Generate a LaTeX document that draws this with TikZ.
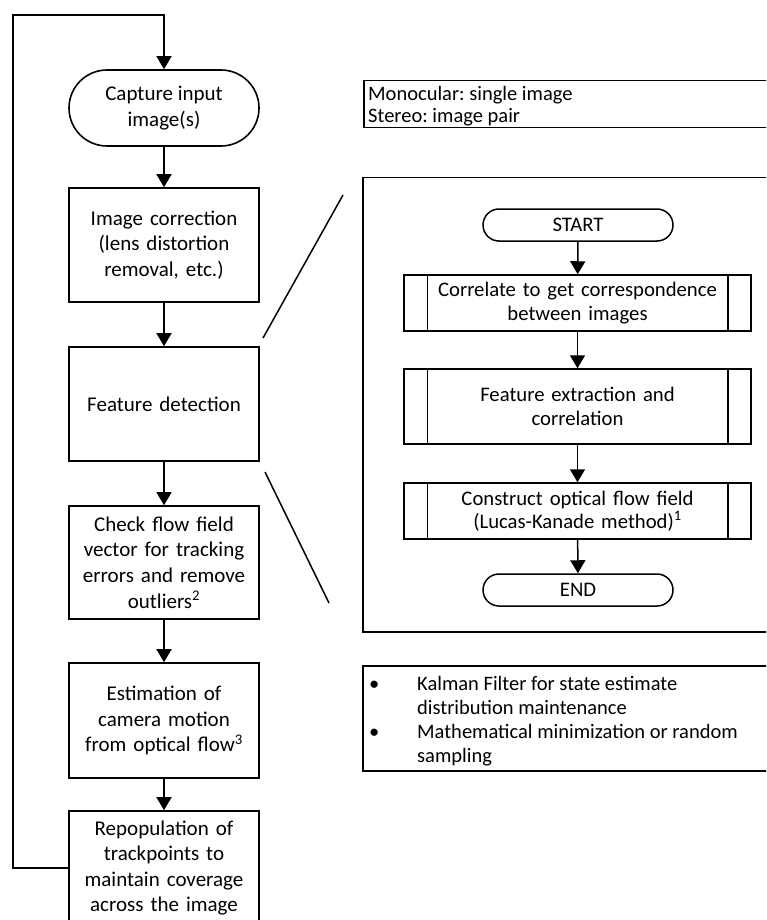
\documentclass[tikz,border=0pt]{standalone}
\usepackage{fontspec}
\setmainfont{Carlito}
\usetikzlibrary{arrows.meta}
\frenchspacing

\tikzset{
  every node/.style={font=\fontsize{21}{25.6}\selectfont},
  stepbox/.style={draw, line width=1.6pt, inner sep=0pt, align=center,
    minimum width=190pt, text width=184pt},
  termbox/.style={draw, line width=1.6pt, inner sep=0pt, align=center,
    minimum width=190pt, rounded corners=#1},
  procbox/.style={draw, line width=1.5pt, inner sep=0pt, align=center,
    minimum width=347pt, text width=300pt, font=\fontsize{20.7}{23.5}\selectfont},
  framebox/.style={draw, line width=1.5pt, inner sep=0pt, anchor=north west},
  notetext/.style={inner sep=0pt, anchor=west, align=left},
  flow/.style={line width=1.6pt, -{Triangle[width=15pt,length=13pt]}},
  thin/.style={line width=1.5pt},
}

\begin{document}
\begin{tikzpicture}[x=1pt, y=-1pt]
\useasboundingbox (0,0) rectangle (766,920);
\clip (0,0) rectangle (766,920);

% main loop column
\node[termbox=38pt, minimum height=76pt] (cap) at (164,108) {Capture input\\image(s)};
\node[stepbox, minimum height=114pt] (corr) at (164,245) {Image correction\\(lens distortion\\removal, etc.)};
\node[stepbox, minimum height=114pt] (feat) at (164,404) {Feature detection};
\node[stepbox, minimum height=113pt] (chk) at (164,562.5) {Check flow field\\vector for tracking\\errors and remove\\outliers\textsuperscript{2}};
\node[stepbox, minimum height=115pt] (est) at (164,720.5) {Estimation of\\camera motion\\from optical flow\textsuperscript{3}};
\node[stepbox, minimum height=114pt] (rep) at (164,868) {Repopulation of\\trackpoints to\\maintain coverage\\across the image};

\draw[flow] (cap) -- (corr);
\draw[flow] (corr) -- (feat);
\draw[flow] (feat) -- (chk);
\draw[flow] (chk) -- (est);
\draw[flow] (est) -- (rep);

% feedback loop back to the capture step
\coordinate (lpb) at (13,868);
\coordinate (lpt) at (13,15);
\draw[flow] (rep.west) -- (lpb) -- (lpt) -- (cap.north |- lpt) -- (cap.north);

% input note
\node[framebox, minimum width=440pt, minimum height=47pt] (info) at (363,80) {};
\node[notetext, font=\fontsize{20.5}{22}\selectfont] (infotxt) at (368,106)
  {Monocular: single image\\Stereo: image pair};

% detail frame for feature detection
\node[framebox, minimum width=440pt, minimum height=454pt] (frame) at (362,177) {};
\coordinate (z1a) at (343,195);
\coordinate (z1b) at (263,338);
\coordinate (z2a) at (265,472);
\coordinate (z2b) at (329,603);
\draw[thin] (z1a) -- (z1b);
\draw[thin] (z2a) -- (z2b);

\node[termbox=16pt, thin, minimum height=32pt, font=\fontsize{20.7}{23.5}\selectfont] (start) at (578,225) {START};
\node[procbox, minimum height=56pt] (p1) at (577.5,303) {Correlate to get correspondence\\between images};
\node[procbox, minimum height=75pt] (p2) at (577.5,406.5) {Feature extraction and\\correlation};
\node[procbox, minimum height=56pt] (p3) at (577.5,511) {Construct optical flow field\\(Lucas-Kanade method)\textsuperscript{1}};
\node[termbox=16pt, thin, minimum height=32pt, font=\fontsize{20.7}{23.5}\selectfont] (stop) at (578,590) {END};

\foreach \p in {p1,p2,p3}{
  \draw[thin] ([xshift=24pt]\p.north west) -- ([xshift=24pt]\p.south west);
  \draw[thin] ([xshift=-24pt]\p.north east) -- ([xshift=-24pt]\p.south east);
}

\draw[flow, line width=1.5pt] (start) -- (p1);
\draw[flow, line width=1.5pt] (p1) -- (p2);
\draw[flow, line width=1.5pt] (p2) -- (p3);
\draw[flow, line width=1.5pt] (p3) -- (stop);

% estimation note
\node[framebox, minimum width=440pt, minimum height=105pt] (notes) at (362,665) {};
\node[notetext, font=\fontsize{20.5}{24}\selectfont] (notestxt) at (369,722)
  {\begin{tabular}{@{}p{48pt}@{}l@{}}
   \textbullet & Kalman Filter for state estimate\\
               & distribution maintenance\\
   \textbullet & Mathematical minimization or random\\
               & sampling
   \end{tabular}};
\end{tikzpicture}
\end{document}
